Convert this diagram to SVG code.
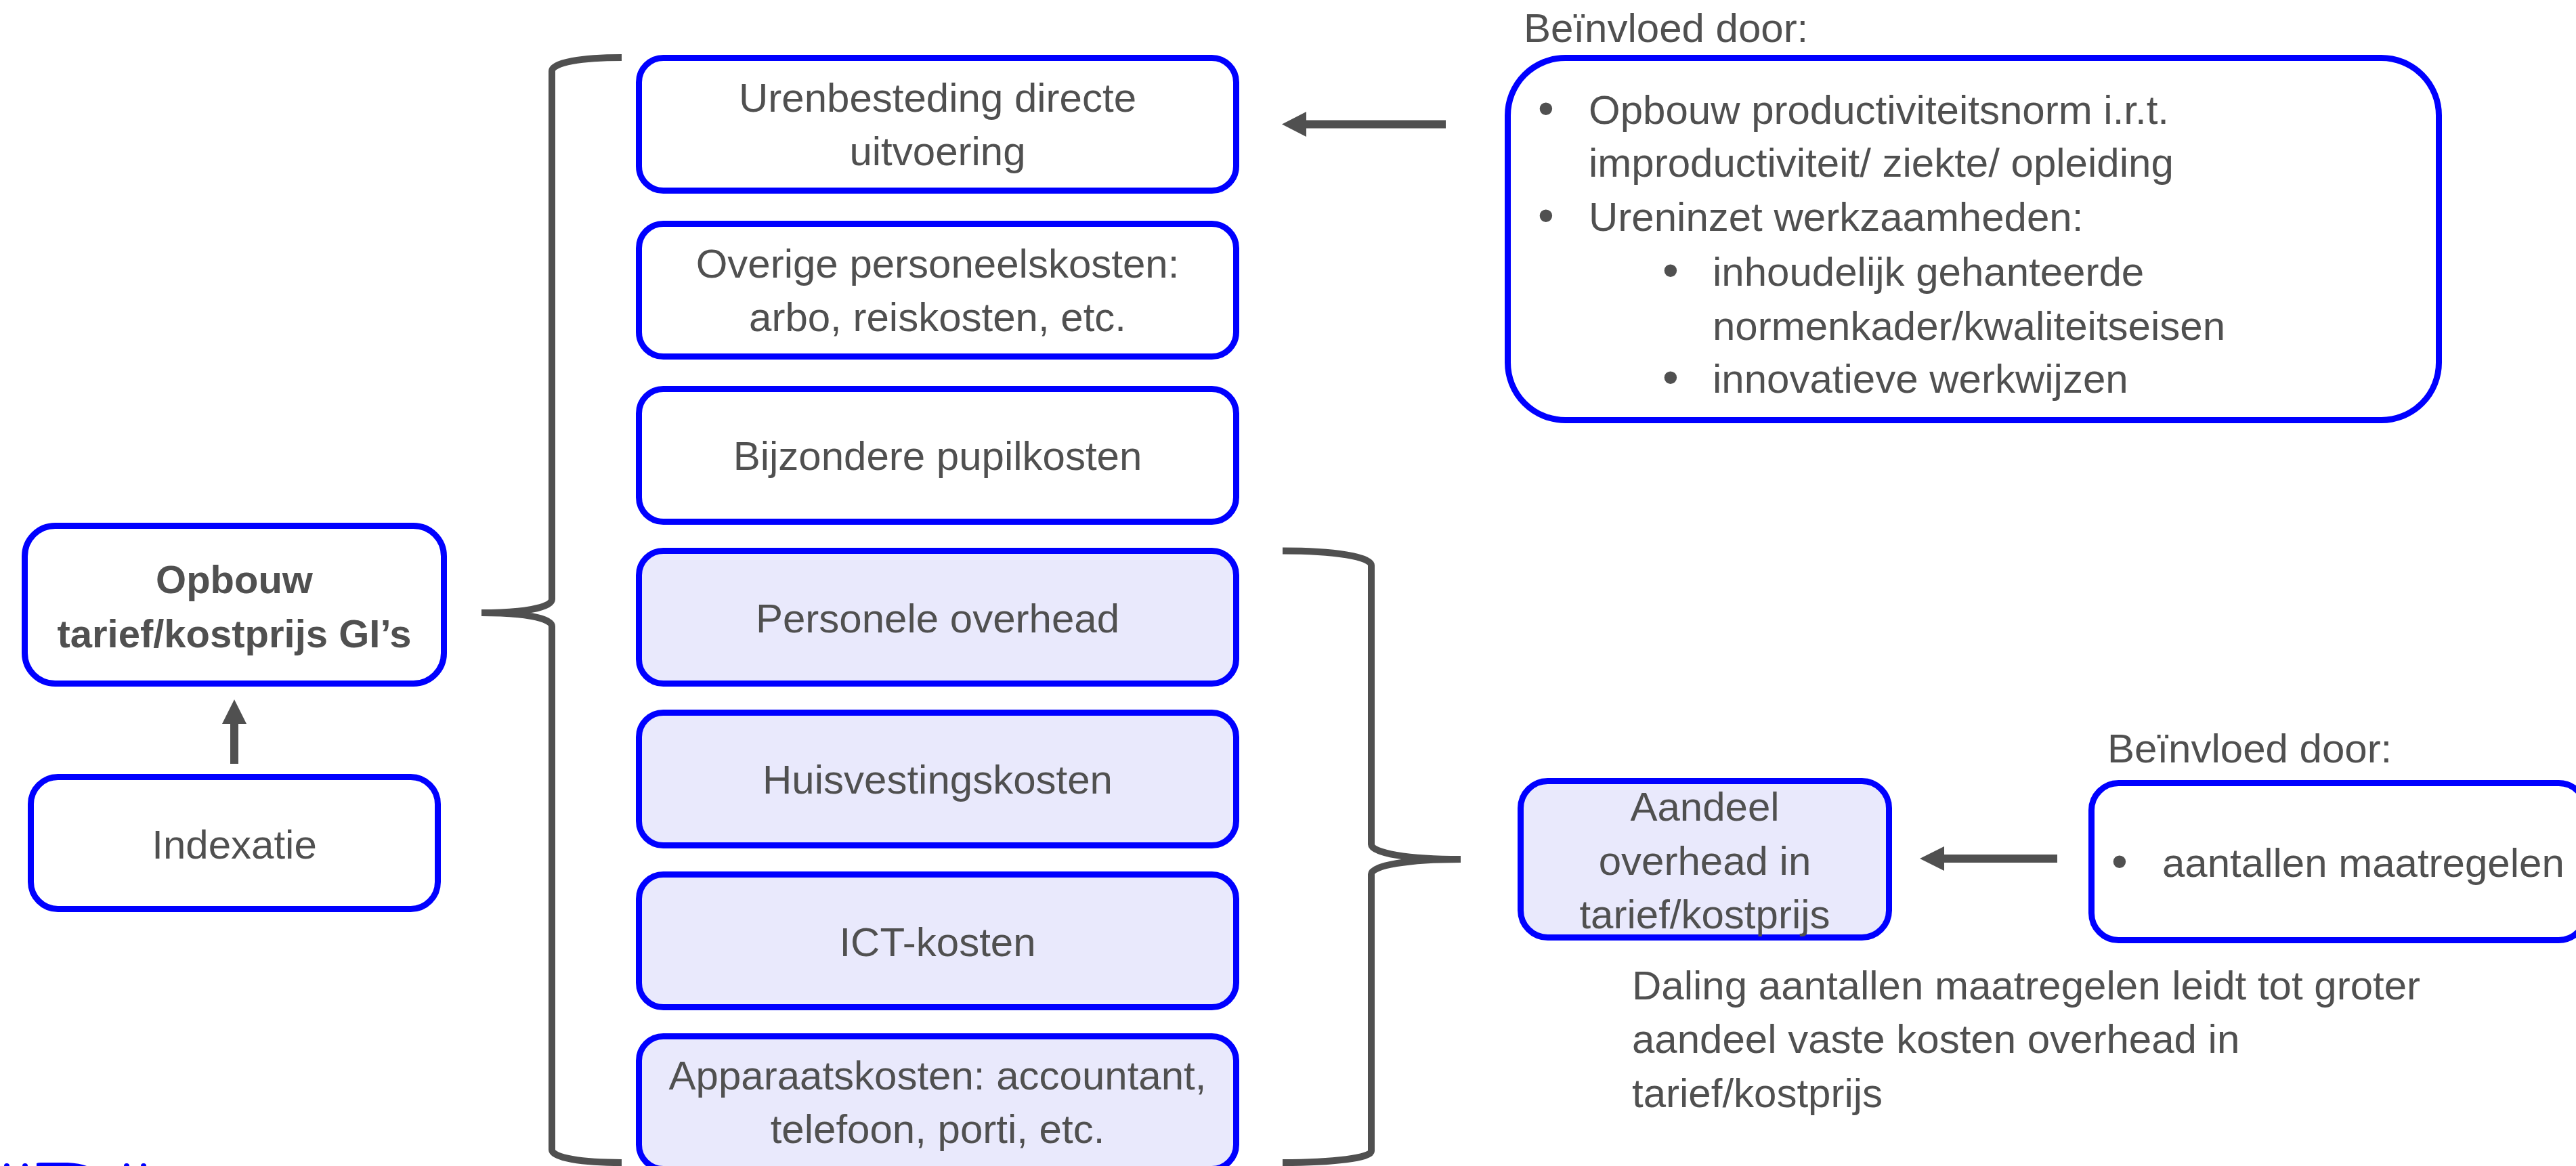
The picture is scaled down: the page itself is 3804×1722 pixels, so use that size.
<svg xmlns="http://www.w3.org/2000/svg" width="3804" height="1722" viewBox="0 0 3804 1722">
<style>
.box{fill:#FFFFFF;stroke:#0000FF;stroke-width:9}
.lav{fill:#E9E9FC}
.t{font-family:'Liberation Sans',Arial,sans-serif;font-size:60px;fill:#505050}
.b{font-weight:bold;font-size:58px}
.c{text-anchor:middle}
.bul{font-family:'Liberation Sans',Arial,sans-serif;font-size:68px;fill:#505050;text-anchor:middle}
.brace{fill:none;stroke:#505050;stroke-width:10}
.arr{fill:#505050}
</style>
<rect width="3804" height="1722" fill="#FFFFFF"/>

<g id="connectors">
  <path class="brace" d="M918 85 C860 85 815 92 815 105 L815 885 C815 898 770 905 711 905 C770 905 815 912 815 925 L815 1698 C815 1710 860 1717 918 1717"/>
  <path class="brace" d="M1894 813.5 C1970 813.5 2025 822 2025 835 L2025 1247 C2025 1260 2080 1269 2157 1269 C2080 1269 2025 1278 2025 1291 L2025 1700 C2025 1710 1970 1717 1894 1717"/>
  <polygon class="arr" points="1893,183.5 1929,165 1929,177.5 2135,177.5 2135,189.5 1929,189.5 1929,202"/>
  <polygon class="arr" points="2835,1268 2871,1250 2871,1262 3038,1262 3038,1274 2871,1274 2871,1286"/>
  <polygon class="arr" points="346,1033 364,1069 352,1069 352,1128 340,1128 340,1069 328,1069"/>
</g>

<g id="opbouw">
  <rect class="box" x="36.5" y="776.5" width="619" height="233" rx="45"/>
  <text class="t b c" x="346" y="876">Opbouw</text>
  <text class="t b c" x="346" y="956">tarief/kostprijs GI’s</text>
</g>
<g id="indexatie">
  <rect class="box" x="45.5" y="1147.5" width="601" height="195" rx="40"/>
  <text class="t c" x="346" y="1268">Indexatie</text>
</g>

<g id="urenbesteding">
  <rect class="box" x="943.5" y="85.5" width="882" height="196" rx="36"/>
  <text class="t c" x="1384.5" y="165">Urenbesteding directe</text>
  <text class="t c" x="1384.5" y="244">uitvoering</text>
</g>
<g id="overige">
  <rect class="box" x="943.5" y="330.5" width="882" height="196" rx="36"/>
  <text class="t c" x="1384.5" y="410">Overige personeelskosten:</text>
  <text class="t c" x="1384.5" y="489">arbo, reiskosten, etc.</text>
</g>
<g id="pupilkosten">
  <rect class="box" x="943.5" y="574.5" width="882" height="196" rx="36"/>
  <text class="t c" x="1384.5" y="694">Bijzondere pupilkosten</text>
</g>
<g id="personele">
  <rect class="box lav" x="943.5" y="813.5" width="882" height="196" rx="36"/>
  <text class="t c" x="1384.5" y="934">Personele overhead</text>
</g>
<g id="huisvesting">
  <rect class="box lav" x="943.5" y="1052.5" width="882" height="196" rx="36"/>
  <text class="t c" x="1384.5" y="1172">Huisvestingskosten</text>
</g>
<g id="ict">
  <rect class="box lav" x="943.5" y="1291.5" width="882" height="196" rx="36"/>
  <text class="t c" x="1384.5" y="1412">ICT-kosten</text>
</g>
<g id="apparaat">
  <rect class="box lav" x="943.5" y="1530.5" width="882" height="196" rx="36"/>
  <text class="t c" x="1384.5" y="1609">Apparaatskosten: accountant,</text>
  <text class="t c" x="1384.5" y="1688">telefoon, porti, etc.</text>
</g>

<g id="invloed1">
  <text class="t" x="2250" y="62">Beïnvloed door:</text>
  <rect class="box" x="2226.5" y="85.5" width="1375" height="535" rx="85"/>
  <text class="bul" x="2283" y="183">•</text>
  <text class="t" x="2346" y="183">Opbouw productiviteitsnorm i.r.t.</text>
  <text class="t" x="2346" y="261">improductiviteit/ ziekte/ opleiding</text>
  <text class="bul" x="2283" y="341">•</text>
  <text class="t" x="2346" y="341">Ureninzet werkzaamheden:</text>
  <text class="bul" x="2467" y="422">•</text>
  <text class="t" x="2529" y="422">inhoudelijk gehanteerde</text>
  <text class="t" x="2529" y="502">normenkader/kwaliteitseisen</text>
  <text class="bul" x="2467" y="580">•</text>
  <text class="t" x="2529" y="580">innovatieve werkwijzen</text>
</g>

<g id="aandeel">
  <rect class="box lav" x="2245.5" y="1153.5" width="544" height="231" rx="40"/>
  <text class="t c" x="2517.5" y="1212">Aandeel</text>
  <text class="t c" x="2517.5" y="1292">overhead in</text>
  <text class="t c" x="2517.5" y="1371">tarief/kostprijs</text>
</g>

<g id="invloed2">
  <text class="t" x="3112" y="1126">Beïnvloed door:</text>
  <rect class="box" x="3088.5" y="1156.5" width="730" height="232" rx="40"/>
  <text class="bul" x="3130" y="1295">•</text>
  <text class="t" x="3193" y="1295">aantallen maatregelen</text>
</g>

<g id="daling">
  <text class="t" x="2410" y="1476">Daling aantallen maatregelen leidt tot groter</text>
  <text class="t" x="2410" y="1555">aandeel vaste kosten overhead in</text>
  <text class="t" x="2410" y="1635">tarief/kostprijs</text>
</g>

<g id="logo-fragment" fill="#0000FF">
  <ellipse cx="10" cy="1722" rx="4" ry="4"/>
  <ellipse cx="37" cy="1722" rx="4" ry="4"/>
  <path d="M54 1722 L54 1718 Q56 1717 60 1717 L100 1717 Q118 1718 128 1722 Z"/>
  <ellipse cx="187" cy="1722" rx="4" ry="4"/>
  <ellipse cx="212" cy="1722" rx="4" ry="4"/>
</g>
</svg>
